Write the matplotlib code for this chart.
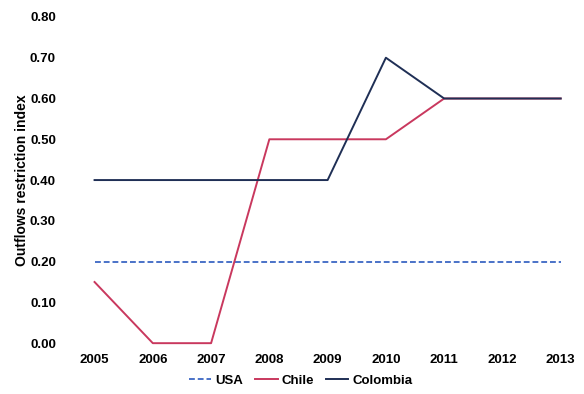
import matplotlib
matplotlib.use("Agg")
import matplotlib.pyplot as plt

years = [2005, 2006, 2007, 2008, 2009, 2010, 2011, 2012, 2013]
usa = [0.20, 0.20, 0.20, 0.20, 0.20, 0.20, 0.20, 0.20, 0.20]
chile = [0.15, 0.00, 0.00, 0.50, 0.50, 0.50, 0.60, 0.60, 0.60]
colombia = [0.40, 0.40, 0.40, 0.40, 0.40, 0.70, 0.60, 0.60, 0.60]

plt.rcParams["font.family"] = ["Liberation Sans", "DejaVu Sans"]
plt.rcParams["font.weight"] = "bold"

fig = plt.figure(figsize=(5.84, 3.94), dpi=100)
ax = fig.add_axes([0.122, 0.129, 0.878, 0.828])

ax.plot(years, usa, color="#4a72c8", lw=1.4, ls=(0, (3, 1.5)), label="USA", clip_on=False)
ax.plot(years, chile, color="#c9385e", lw=1.4, label="Chile", clip_on=False)
ax.plot(years, colombia, color="#1f2f55", lw=1.4, label="Colombia", clip_on=False)

ax.set_xlim(2004.6, 2013.4)
ax.set_ylim(0, 0.8)
ax.set_xticks(years)
ax.set_yticks([i / 10 for i in range(9)])
ax.yaxis.set_major_formatter(matplotlib.ticker.FormatStrFormatter("%.2f"))
ax.tick_params(length=0, labelsize=9.5)
ax.tick_params(axis="x", pad=8)
ax.tick_params(axis="y", pad=11)
for s in ax.spines.values():
    s.set_visible(False)
ax.set_ylabel("Outflows restriction index", fontsize=10, fontweight="bold", labelpad=1)

fig.legend(loc="center", bbox_to_anchor=(0.515, 0.033), ncol=3, frameon=False,
           fontsize=9.5, handlelength=1.7, handletextpad=0.3, columnspacing=0.9)

fig.savefig("out.png", dpi=100)
